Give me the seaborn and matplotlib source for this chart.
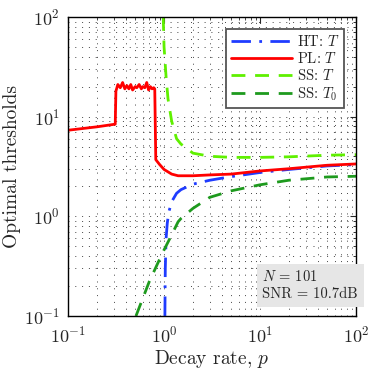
import numpy as np
import pandas as pd
import matplotlib
matplotlib.use('Agg')
import matplotlib.pyplot as plt
import seaborn as sns
from matplotlib.ticker import FuncFormatter, LogLocator, NullFormatter

# datos
ht_p = [1.02, 1.03, 1.05, 1.08, 1.12, 1.2, 1.35, 1.5, 2, 3, 5, 10, 20, 50, 100]
ht_T = [0.1, 0.3, 0.6, 0.85, 1.1, 1.4, 1.7, 1.85, 2.1, 2.3, 2.5, 2.75, 2.95, 3.2, 3.3]

pl_p = [0.1, 0.2, 0.31, 0.315, 0.33, 0.35, 0.37, 0.39, 0.41, 0.43, 0.45, 0.47, 0.5,
        0.52, 0.55, 0.58, 0.6, 0.63, 0.66, 0.69, 0.72, 0.75, 0.78, 0.8,
        0.82, 0.9, 1.0, 1.2, 1.4, 2, 3, 5, 10, 20, 50, 100]
pl_T = [7.3, 7.9, 8.4, 18, 21, 19.5, 22, 19, 20.5, 19, 21, 18.5, 20, 19.5, 21,
        19, 20, 19.5, 22, 18.5, 20, 19, 19.5, 19,
        3.7, 3.3, 2.95, 2.65, 2.55, 2.55, 2.6, 2.65, 2.85, 3.0, 3.25, 3.35]

ss_p = [0.98, 1.0, 1.05, 1.1, 1.2, 1.35, 1.5, 2, 3, 5, 10, 20, 50, 100]
ss_T = [100, 50, 25, 15, 9, 6, 5.3, 4.3, 4.0, 3.9, 3.9, 3.95, 4.1, 4.15]

ss0_p = [0.51, 0.6, 0.7, 0.85, 1.0, 1.2, 1.4, 1.5, 2, 3, 5, 10, 20, 50, 100]
ss0_T = [0.1, 0.15, 0.22, 0.33, 0.46, 0.65, 0.88, 0.95, 1.2, 1.55, 1.8, 2.07, 2.3, 2.48, 2.52]

sns.set_style('white')
plt.rcParams['mathtext.fontset'] = 'cm'
plt.rcParams['axes.unicode_minus'] = False

fig = plt.figure(figsize=(3.74, 3.77), dpi=100)
ax = fig.add_axes([0.182, 0.162, 0.77, 0.793])

sns.lineplot(x=ht_p, y=ht_T, ax=ax, color='#1f3cff', lw=2.0, label='HT: $T$',
             dashes=False, sort=False)
ax.lines[-1].set_dashes([7, 3, 1, 3])
sns.lineplot(x=pl_p, y=pl_T, ax=ax, color='#ff0000', lw=2.0, label='PL: $T$', sort=False)
sns.lineplot(x=ss_p, y=ss_T, ax=ax, color='#5ff000', lw=2.0, label='SS: $T$', sort=False)
ax.lines[-1].set_dashes([5, 3.5])
sns.lineplot(x=ss0_p, y=ss0_T, ax=ax, color='#1e9a1e', lw=2.0, label='SS: $T_0$', sort=False)
ax.lines[-1].set_dashes([5, 3.5])

ax.set_xscale('log')
ax.set_yscale('log')
ax.set_xlim(0.1, 100)
ax.set_ylim(0.1, 100)

fmt = FuncFormatter(lambda v, pos: r'$\mathsf{10^{%d}}$' % round(np.log10(v)))
ax.xaxis.set_major_formatter(fmt)
ax.yaxis.set_major_formatter(fmt)
ax.xaxis.set_minor_formatter(NullFormatter())
ax.yaxis.set_minor_formatter(NullFormatter())
ax.tick_params(which='both', direction='in', top=True, right=True, labelsize=13)
ax.tick_params(axis='x', which='major', pad=7)
ax.tick_params(axis='y', which='major', pad=6)
ax.tick_params(which='major', length=4)
ax.tick_params(which='minor', length=2)

ax.grid(True, which='both', linestyle=(0, (1, 6)), color='#444444', lw=0.7)
for s in ax.spines.values():
    s.set_color('black')
    s.set_linewidth(1.0)

ax.set_xlabel('Decay rate, $p$', fontfamily='cmr10', fontsize=14, labelpad=1)
ax.set_ylabel('Optimal thresholds', fontfamily='cmr10', fontsize=14, labelpad=2)

leg = ax.legend(loc='upper right', handlelength=4.2, frameon=True,
                fancybox=False, borderaxespad=0.8, labelspacing=0.15,
                handletextpad=0.3, borderpad=0.35,
                prop={'family': 'cmr10', 'size': 10.5})
leg.get_frame().set_edgecolor('#555555')
leg.get_frame().set_linewidth(1.3)
leg.get_frame().set_alpha(1)

ax.text(0.675, 0.06, '$N$ = 101\nSNR = 10.7dB', transform=ax.transAxes,
        fontfamily='cmr10', fontsize=10.5, linespacing=1.3,
        bbox=dict(facecolor='#e6e6e6', edgecolor='none', pad=4))

fig.savefig('out.png', dpi=100)
